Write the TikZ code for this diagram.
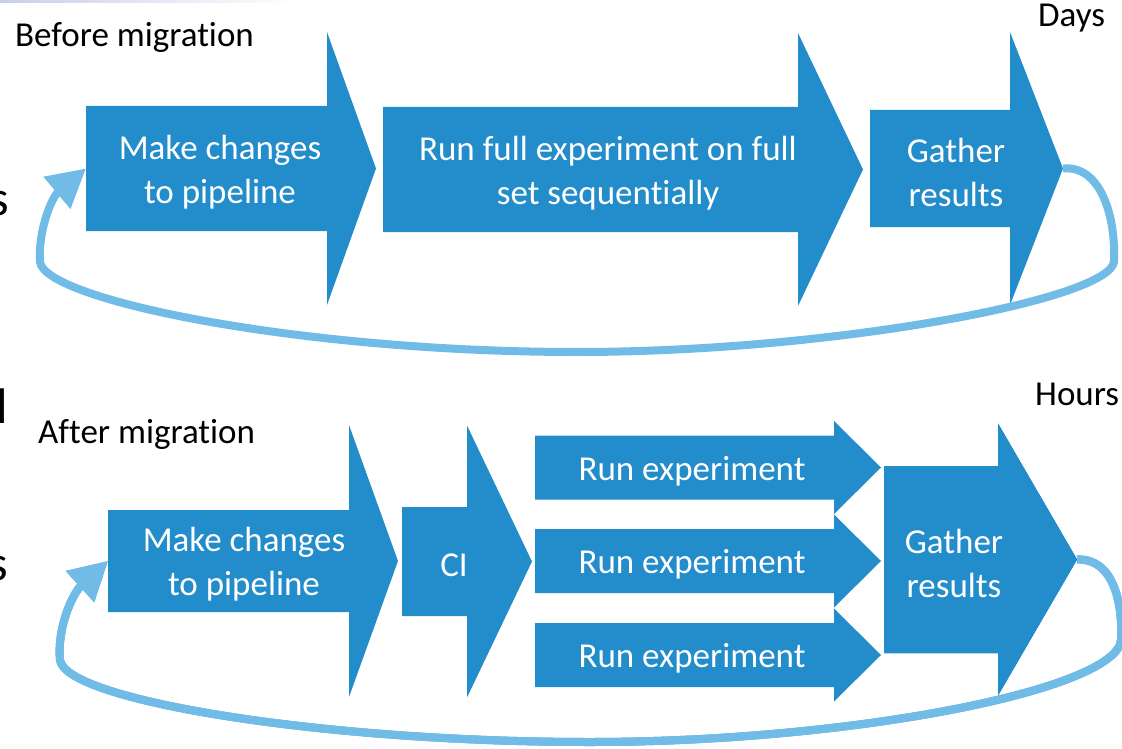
\documentclass[tikz,border=0pt]{standalone}
\usepackage{fontspec}
\setmainfont{Carlito}[Ligatures=NoCommon]
\usetikzlibrary{arrows.meta}
\definecolor{StageBlue}{HTML}{238CCB}
\definecolor{LoopBlue}{HTML}{71BBE7}
\definecolor{FadeBlue}{HTML}{C9CEEA}

% name, left, head start, centre y, half body, half head, tip, text x, text
\newcommand{\stagearrow}[9]{%
  \fill[stagefill] ({#2},{#4-#5}) -- ({#3},{#4-#5}) -- ({#3},{#4-#6}) -- ({#7},{#4})
    -- ({#3},{#4+#6}) -- ({#3},{#4+#5}) -- ({#2},{#4+#5}) -- cycle;
  \coordinate (#1-w) at ({#2},{#4});
  \coordinate (#1-e) at ({#7},{#4});
  \node[stagelabel] (#1) at ({#8},{#4}) {#9};
}

\begin{document}
\begin{tikzpicture}[x=1pt,y=-1pt,>=Latex]
    \tikzset{
      stagefill/.style={fill=StageBlue},
      stagelabel/.style={text=white,align=center,inner sep=0pt,yshift=-3.5pt,
        font=\fontsize{35}{44}\selectfont},
      rowtitle/.style={anchor=base west,inner sep=0pt,font=\fontsize{35}{42}\selectfont},
      cutoff/.style={anchor=base east,inner sep=0pt,font=\fontsize{50}{60}\selectfont},
      feedback/.style={draw=LoopBlue,line width=8pt,line join=round,
        -{Triangle[length=38pt,width=40pt]}}
    }
    \useasboundingbox (0,0) rectangle (1122,749);
    \shade[left color=FadeBlue,right color=white] (0,0) rectangle (300,3);

    % text cut off at the left edge
    \node[cutoff] (frag1) at (9.5,215) {s};
    \node[cutoff] (frag2) at (8.5,423) {l};
    \node[cutoff] (frag3) at (8.5,580) {s};

    % before
    \node[rowtitle] (before) at (15,47) {Before migration};
    \node[rowtitle] (days) at (1038,27) {Days};
    \stagearrow{change1}{86}{327}{168.5}{62.5}{136.5}{376}{220}{Make changes\\to pipeline}
    \stagearrow{fullrun}{383}{798}{169.5}{62.5}{136.5}{863}{608}{Run full experiment on full\\set sequentially}
    \stagearrow{gather1}{870}{1010}{168.5}{58.5}{136.5}{1063}{956}{Gather\\results}
    \draw[feedback] (gather1-e) .. controls (1100,165) and (1116,215) .. (1114,262)
      .. controls (1108,300) and (830,352) .. (577,352)
      .. controls (300,352) and (45,300) .. (40,262)
      .. controls (38,230) and (52,197) .. (change1-w);

    % after
    \node[rowtitle] (after) at (38,443) {After migration};
    \node[rowtitle] (hours) at (1035,405) {Hours};
    \stagearrow{change2}{108}{349}{561}{51}{136}{398}{244}{Make changes\\to pipeline}
    \stagearrow{ci}{402}{467}{561.5}{54.5}{136}{532}{454}{CI}
    \foreach \i/\yc in {1/467.5,2/561,3/655}
      \stagearrow{run\i}{535}{834}{\yc}{32}{46.5}{881}{692}{Run experiment}
    \stagearrow{gather2}{884}{998}{559.5}{93.5}{136}{1077}{954}{Gather\\results}
    \draw[feedback] (gather2-e) .. controls (1112,558) and (1123,600) .. (1121,640)
      .. controls (1117,690) and (850,742) .. (590,742)
      .. controls (320,742) and (65,700) .. (60,660)
      .. controls (57,625) and (74,592) .. (change2-w);
\end{tikzpicture}
\end{document}
